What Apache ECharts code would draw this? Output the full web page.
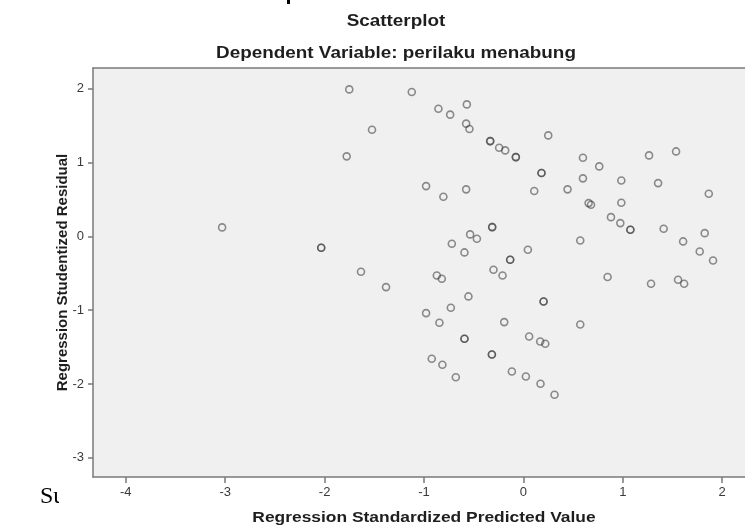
<!DOCTYPE html>
<html>
<head>
<meta charset="utf-8">
<script src="https://cdn.jsdelivr.net/npm/echarts@6/dist/echarts.min.js"></script>
<style>
html,body{margin:0;padding:0;background:#fff;overflow:hidden;}
#chart{width:745px;height:527px;}
</style>
</head>
<body>
<div id="chart"></div>
<script>
// ---- data ----
const titleText = 'Scatterplot';
const subtitleText = 'Dependent Variable: perilaku menabung';
const xAxisName = 'Regression Standardized Predicted Value';
const yAxisName = 'Regression Studentized Residual';
const xTicks = [-4, -3, -2, -1, 0, 1, 2];
const yTicks = [-3, -2, -1, 0, 1, 2];
const xRange = [-4.33, 2.34];
const yRange = [-3.26, 2.28];

// standardized predicted values
const predicted = [
  -3.031, -2.034, -2.034, -1.752, -1.778, -1.523, -1.634, -1.382, -1.123, -0.855,
  -0.737, -0.569, -0.576, -0.543, -0.334, -0.334, -0.244, -0.183, -0.076, -0.076,
  0.250, 0.182, 0.182, -0.979, -0.805, -0.576, 0.109, 0.444, 0.599, 0.599,
  0.763, 0.985, 1.264, 1.536, 1.355, 1.865, 0.656, 0.680, 0.985, 0.881,
  0.975, 1.076, 1.076, 1.411, 1.607, 1.824, 1.774, 1.908, 0.572, 0.045,
  -0.133, -0.133, -0.314, -0.314, -0.536, -0.468, -0.720, -0.593, -0.301, -0.210,
  -0.871, -0.821, 0.847, 1.284, 1.556, 1.617, -0.553, 0.203, 0.203, -0.979,
  -0.730, -0.845, -0.193, 0.572, -0.593, -0.593, 0.058, 0.169, 0.220, -0.317,
  -0.317, -0.922, -0.815, -0.680, -0.116, 0.025, 0.172, 0.313
];
// studentized residuals
const residual = [
  0.121, -0.155, -0.155, 1.990, 1.083, 1.444, -0.480, -0.688, 1.954, 1.729,
  1.648, 1.787, 1.526, 1.453, 1.290, 1.290, 1.200, 1.164, 1.073, 1.073,
  1.367, 0.857, 0.857, 0.680, 0.536, 0.636, 0.613, 0.636, 1.065, 0.785,
  0.947, 0.757, 1.096, 1.150, 0.721, 0.577, 0.450, 0.428, 0.455, 0.260,
  0.179, 0.089, 0.089, 0.103, -0.069, 0.043, -0.205, -0.327, -0.056, -0.182,
  -0.317, -0.317, 0.125, 0.125, 0.026, -0.033, -0.100, -0.218, -0.453, -0.530,
  -0.530, -0.575, -0.550, -0.642, -0.588, -0.642, -0.814, -0.882, -0.882, -1.040,
  -0.968, -1.171, -1.162, -1.194, -1.388, -1.388, -1.356, -1.424, -1.455, -1.600,
  -1.600, -1.659, -1.740, -1.908, -1.831, -1.898, -1.997, -2.146
];

const points = predicted.map((x, i) => [x, residual[i]]);

const chart = echarts.init(document.getElementById('chart'), null, {renderer: 'canvas'});
const axisColor = '#7a7a7a';
const labelFont = {fontFamily: 'Liberation Sans, Arial, sans-serif', fontSize: 13, color: '#3a3a3a'};
const nameFont = {fontFamily: 'Liberation Sans, Arial, sans-serif', fontSize: 15, fontWeight: 'bold', color: '#1e1e1e'};
const boldFont = (s) => 'bold ' + s + 'px "Liberation Sans", Arial, sans-serif';

chart.setOption({
  animation: false,
  backgroundColor: '#ffffff',
  grid: {
    left: 93, top: 68, right: -11, bottom: 50,
    containLabel: false, outerBoundsMode: 'none',
    show: false
  },
  xAxis: [{
    type: 'value', min: xRange[0], max: xRange[1],
    axisLine: {show: true, onZero: false, lineStyle: {color: axisColor, width: 1.5}},
    axisTick: {show: true, length: 6, customValues: xTicks, lineStyle: {color: axisColor, width: 1.5}},
    axisLabel: Object.assign({margin: 9, customValues: xTicks, formatter: v => String(v)}, labelFont),
    splitLine: {show: false}
  }, {
    type: 'value', position: 'top', min: xRange[0], max: xRange[1],
    axisLine: {show: true, onZero: false, lineStyle: {color: axisColor, width: 1.5}},
    axisTick: {show: false}, axisLabel: {show: false}, splitLine: {show: false}
  }],
  yAxis: {
    type: 'value', min: yRange[0], max: yRange[1],
    name: yAxisName, nameLocation: 'middle', nameGap: 23, nameRotate: 90, nameMoveOverlap: false,
    nameTextStyle: nameFont,
    axisLine: {show: true, onZero: false, lineStyle: {color: axisColor, width: 1.5}},
    axisTick: {show: true, length: 5, customValues: yTicks, lineStyle: {color: axisColor, width: 1.5}},
    axisLabel: Object.assign({margin: 9, customValues: yTicks, formatter: v => String(v)}, labelFont),
    splitLine: {show: false}
  },
  graphic: [
    {type: 'rect', z: -10, silent: true, shape: {x: 93, y: 68, width: 652, height: 409}, style: {fill: '#f0f0f0'}},
    {type: 'text', x: 396, y: 22, scaleX: 1.18, style: {text: titleText, textAlign: 'center', textVerticalAlign: 'middle',
      font: boldFont(16), fill: '#1e1e1e'}},
    {type: 'text', x: 396, y: 54, scaleX: 1.18, style: {text: subtitleText, textAlign: 'center', textVerticalAlign: 'middle',
      font: boldFont(16), fill: '#1e1e1e'}},
    {type: 'text', x: 424, y: 518, scaleX: 1.16, style: {text: xAxisName, textAlign: 'center', textVerticalAlign: 'middle',
      font: boldFont(15), fill: '#1e1e1e'}},
    {type: 'text', x: 40, y: 497, style: {text: 'Su', textAlign: 'left', textVerticalAlign: 'middle',
      font: '24px "Liberation Serif", "Times New Roman", serif', fill: '#000'}},
    {type: 'rect', shape: {x: 59, y: 470, width: 32, height: 57}, style: {fill: '#ffffff'}},
    {type: 'rect', shape: {x: 287, y: 0, width: 3, height: 4}, style: {fill: '#000'}}
  ],
  series: [{
    type: 'scatter',
    data: points,
    symbol: 'circle',
    symbolSize: 7,
    itemStyle: {color: 'rgba(0,0,0,0)', borderColor: 'rgba(60,60,60,0.72)', borderWidth: 1.6},
    emphasis: {disabled: true},
    silent: true
  }]
});
</script>
</body>
</html>
